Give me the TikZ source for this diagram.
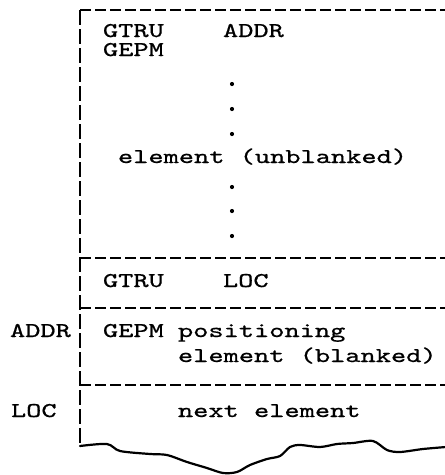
\documentclass[tikz,border=0pt]{standalone}
\usepackage{fontspec}
\usepackage{graphicx}
\newfontfamily\twfont{lmmono10-regular.otf}[FakeBold=0.6]
\newcommand{\twr}[1]{\scalebox{1.38}[1]{\twfont\fontsize{21}{24}\selectfont #1}}
\begin{document}
\begin{tikzpicture}[x=1pt,y=-1pt,
  txt/.style={anchor=base west,inner sep=0pt,outer sep=0pt},
  hdash/.style={line width=2.6pt,dash pattern=on 10.5pt off 4.5pt},
  vdash/.style={line width=2.8pt,dash pattern=on 15pt off 4pt},
  wavy/.style={line width=2.2pt,line join=round,line cap=round},
  dotmark/.style={fill=black}]
\useasboundingbox (0,0) rectangle (445,475);
% frame coordinates
\coordinate (tl) at (80,10);
\coordinate (tr) at (445,10);
\coordinate (l2) at (80,258);
\coordinate (r2) at (445,258);
\coordinate (l3) at (80,308);
\coordinate (r3) at (445,308);
\coordinate (l4) at (80,385);
\coordinate (r4) at (445,385);
\coordinate (bl) at (80,446);
% frame
\draw[vdash] (tl) -- (bl);
\draw[hdash] (tl) -- (tr);
\draw[hdash] (l2) -- (r2);
\draw[hdash] (l3) -- (r3);
\draw[hdash] (l4) -- (r4);
\draw[wavy] plot[smooth,tension=0.5] coordinates {(80,446) (107,444) (120,451) (150,454) (167,455) (187,462) (207,468) (223,473) (237,472) (250,465) (267,459) (280,456) (290,447) (300,445) (320,447) (337,444) (353,443) (373,441) (387,450) (400,452) (423,449) (446,447)};
% texts
\node[txt] (gtru1) at (103,37) {\twr{GTRU}};
\node[txt] (addr1) at (223,37) {\twr{ADDR}};
\node[txt] (gepm1) at (103,56) {\twr{GEPM}};
\node[txt] (elemu) at (118,163) {\twr{element (unblanked)}};
\node[txt] (gtru2) at (103,287) {\twr{GTRU}};
\node[txt] (loc1) at (223,287) {\twr{LOC}};
\node[txt] (gepm2) at (103,337) {\twr{GEPM}};
\node[txt] (posn) at (178,337) {\twr{positioning}};
\node[txt] (elemb) at (178,362) {\twr{element (blanked)}};
\node[txt] (nextel) at (178,417) {\twr{next element}};
\node[txt] (addrL) at (10,337) {\twr{ADDR}};
\node[txt] (locL) at (11,417) {\twr{LOC}};
% dots
\foreach \yy in {84,109,134,187,211,236}
  \fill[dotmark] (232,\yy) circle (2.1);
\end{tikzpicture}
\end{document}
